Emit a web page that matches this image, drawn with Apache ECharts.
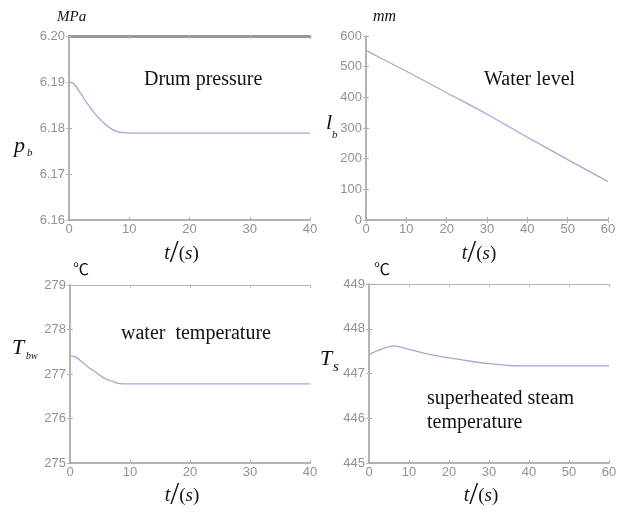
<!DOCTYPE html>
<html>
<head>
<meta charset="utf-8">
<script src="https://cdn.jsdelivr.net/npm/echarts@6/dist/echarts.min.js"></script>
<style>
  html, body { margin: 0; padding: 0; background: #fff; }
  #chart { width: 624px; height: 513px; }
</style>
</head>
<body>
<div id="chart"></div>
<script>
// drum pressure (MPa) vs time (s)
var pbTime = [0, 0.5, 1, 2, 3, 4, 5, 6, 7, 8, 9, 10, 15, 20, 25, 30, 35, 40];
var pbValue = [6.19, 6.1898, 6.1893, 6.1874, 6.1854, 6.1836, 6.1821, 6.1808, 6.1798, 6.1792, 6.1790, 6.1789,
  6.1789, 6.1789, 6.1789, 6.1789, 6.1789, 6.1789];

// water level (mm) vs time (s)
var lbTime = [0, 10, 20, 30, 40, 50, 60];
var lbValue = [553, 485, 415, 345, 270, 197, 125];

// water temperature (C) vs time (s)
var tbwTime = [0, 1, 2, 3, 4, 5, 6, 7, 8, 9, 10, 20, 30, 40];
var tbwValue = [277.41, 277.38, 277.27, 277.16, 277.07, 276.97, 276.89, 276.84, 276.79, 276.78, 276.78,
  276.78, 276.78, 276.78];

// superheated steam temperature (C) vs time (s)
var tsTime = [0, 3, 6, 10, 15, 20, 25, 30, 35, 40, 50, 60];
var tsValue = [447.43, 447.54, 447.62, 447.54, 447.43, 447.35, 447.28, 447.22, 447.18, 447.17, 447.17, 447.17];

// tick labels
var pbTicks = ['6.16', '6.17', '6.18', '6.19', '6.20'];

var chart = echarts.init(document.getElementById('chart'));

var lineColor = '#a6a6da';
var tickFont = { color: '#929292', fontSize: 13, fontFamily: 'Liberation Sans' };

var panels = [
  { grid: { left: 69, top: 36, width: 241, height: 184 }, xMax: 40, yMin: 6.16, yMax: 6.20, yInt: 0.01,
    fmt: function (v) { return pbTicks[Math.round((v - 6.16) / 0.01)]; }, gap: 18, thickTop: true,
    x: pbTime, y: pbValue },
  { grid: { left: 366, top: 36, width: 242, height: 184 }, xMax: 60, yMin: 0, yMax: 600, yInt: 100,
    fmt: null, gap: 18, x: lbTime, y: lbValue },
  { grid: { left: 70, top: 285, width: 240, height: 183 }, xMax: 40, yMin: 275, yMax: 279, yInt: 1,
    fmt: null, gap: 5, x: tbwTime, y: tbwValue },
  { grid: { left: 369, top: 284, width: 240, height: 183 }, xMax: 60, yMin: 445, yMax: 449, yInt: 1,
    fmt: null, gap: 5, x: tsTime, y: tsValue }
];

var grids = [], xAxes = [], yAxes = [], series = [];
panels.forEach(function (p, i) {
  grids.push(p.grid);
  xAxes.push({
    type: 'value', gridIndex: i, min: 0, max: p.xMax, interval: 10, position: 'bottom',
    axisLine: { lineStyle: { color: '#9a9a9a', width: 1.5 } },
    axisTick: { inside: true, length: 3, lineStyle: { color: '#aaa' } },
    axisLabel: Object.assign({ margin: 3 }, tickFont),
    splitLine: { show: false },
    name: '{t|t}{sl|/}{p|(}{s|s}{p|)}', nameLocation: 'middle', nameGap: p.gap,
    nameTextStyle: {
      padding: [0, 16, 0, 0],
      rich: {
        t: { fontFamily: 'Liberation Serif', fontStyle: 'italic', fontSize: 20, color: '#111' },
        sl: { fontFamily: 'Liberation Serif', fontSize: 32, color: '#111' },
        p: { fontFamily: 'Liberation Serif', fontSize: 19, color: '#111' },
        s: { fontFamily: 'Liberation Serif', fontStyle: 'italic', fontSize: 19, color: '#111' }
      }
    }
  });
  xAxes.push({
    type: 'value', gridIndex: i, min: 0, max: p.xMax, interval: 10, position: 'top',
    axisLine: { lineStyle: { color: p.thickTop ? '#9a9a9a' : '#b4b4b4', width: p.thickTop ? 3 : 1 } },
    axisTick: { inside: true, length: 3, lineStyle: { color: '#bbb' } },
    axisLabel: { show: false }, splitLine: { show: false }
  });
  yAxes.push({
    type: 'value', gridIndex: i, min: p.yMin, max: p.yMax, interval: p.yInt, position: 'left',
    axisLine: { show: true, lineStyle: { color: '#9a9a9a', width: 1.5 } },
    axisTick: { show: true, inside: true, length: 3, lineStyle: { color: '#aaa' } },
    axisLabel: Object.assign({ margin: 4, formatter: p.fmt || undefined }, tickFont),
    splitLine: { show: false }
  });
  yAxes.push({
    type: 'value', gridIndex: i, min: p.yMin, max: p.yMax, interval: p.yInt, position: 'right',
    axisLine: { show: true, lineStyle: { color: '#b4b4b4', width: 1 } },
    axisTick: { show: true, inside: true, length: 3, lineStyle: { color: '#bbb' } },
    axisLabel: { show: false }, splitLine: { show: false }
  });
  series.push({
    type: 'line', xAxisIndex: i * 2, yAxisIndex: i * 2, smooth: 0.3,
    showSymbol: false, silent: true,
    lineStyle: { color: lineColor, width: 1.3 },
    data: p.x.map(function (t, k) { return [t, p.y[k]]; })
  });
});

var serif = 'Liberation Serif';
function txt(x, y, s, size, italic, family) {
  return {
    type: 'text', x: x, y: y, silent: true,
    style: { text: s, fill: '#111', font: (italic ? 'italic ' : '') + size + 'px "' + (family || serif) + '"',
      textVerticalAlign: 'bottom' }
  };
}

chart.setOption({
  animation: false,
  grid: grids,
  xAxis: xAxes,
  yAxis: yAxes,
  series: series,
  graphic: [
    // units
    txt(57, 25, 'MPa', 15, true),
    txt(373, 25, 'mm', 16, true),
    txt(73, 277, '℃', 16, false, 'Noto Sans CJK SC'),
    txt(374, 277, '℃', 16, false, 'Noto Sans CJK SC'),
    // y-axis symbols
    txt(14, 157, 'p', 22, true),
    txt(27, 159, 'b', 11, true),
    txt(326, 134, 'l', 22, true),
    txt(332, 141, 'b', 11, true),
    txt(12, 359, 'T', 22, true),
    txt(26, 361, 'bw', 10, true),
    txt(320, 370, 'T', 22, true),
    txt(333, 375, 's', 15, true),
    // panel captions
    txt(144, 90, 'Drum pressure', 20, false),
    txt(484, 90, 'Water level', 20, false),
    txt(121, 344, 'water  temperature', 20, false),
    txt(427, 409, 'superheated steam', 20, false),
    txt(427, 433, 'temperature', 20, false)
  ]
});
</script>
</body>
</html>
